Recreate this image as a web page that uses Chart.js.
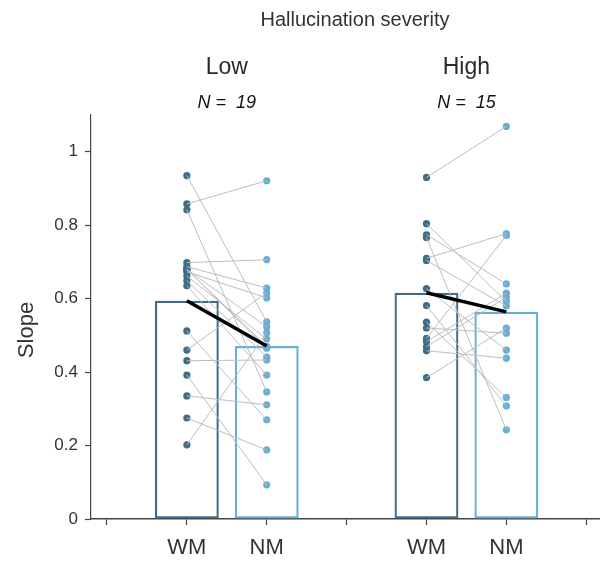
<!DOCTYPE html>
<html>
<head>
<meta charset="utf-8">
<script src="https://cdn.jsdelivr.net/npm/chart.js@4.4.1/dist/chart.umd.min.js"></script>
<style>
  html, body { margin: 0; padding: 0; background: #fff; overflow: hidden; }
</style>
</head>
<body>
<canvas id="myChart" width="603" height="561"></canvas>
<script>
const groups = ['Low', 'High'];
const groupN = [19, 15];
const conditions = ['WM', 'NM'];
const xWM = [1, 4];
const xNM = [2, 5];

// bar heights (group means)
const barWM = [0.594, 0.616];
const barNM = [0.471, 0.564];

// per-subject slopes, paired by index
const lowWM = [0.935, 0.858, 0.842, 0.698, 0.687, 0.680, 0.680, 0.680, 0.673, 0.662, 0.649, 0.635, 0.512, 0.460, 0.431, 0.392, 0.335, 0.275, 0.202];
const lowNM = [0.537, 0.921, 0.346, 0.706, 0.629, 0.523, 0.470, 0.465, 0.602, 0.490, 0.441, 0.392, 0.270, 0.616, 0.433, 0.093, 0.311, 0.188, 0.507];
const highWM = [0.930, 0.804, 0.774, 0.766, 0.710, 0.704, 0.627, 0.581, 0.536, 0.492, 0.483, 0.469, 0.458, 0.520, 0.385];
const highNM = [1.069, 0.592, 0.640, 0.243, 0.777, 0.580, 0.460, 0.308, 0.331, 0.772, 0.615, 0.604, 0.438, 0.506, 0.520];

const yTicks = [0, 0.2, 0.4, 0.6, 0.8, 1];
const xTicks = [0, 1, 2, 3, 4, 5, 6];

const darkBlue = '#3e6d8a';
const lightBlue = '#6aaed6';
const font = "'Liberation Sans', Arial, Helvetica, sans-serif";

const subjects = [[lowWM, lowNM], [highWM, highNM]];
const datasets = [];

// bars
datasets.push({
  type: 'bar',
  data: xWM.map((x, i) => ({ x: x, y: barWM[i] })),
  backgroundColor: 'rgba(255,255,255,0)',
  borderColor: darkBlue,
  borderWidth: 2.2,
  borderSkipped: false,
  grouped: false,
  barPercentage: 0.8,
  categoryPercentage: 1,
  order: 5
});
datasets.push({
  type: 'bar',
  data: xNM.map((x, i) => ({ x: x, y: barNM[i] })),
  backgroundColor: 'rgba(255,255,255,0)',
  borderColor: lightBlue,
  borderWidth: 2.2,
  borderSkipped: false,
  grouped: false,
  barPercentage: 0.8,
  categoryPercentage: 1,
  order: 5
});

// points
subjects.forEach((s, g) => {
  datasets.push({
    type: 'scatter',
    data: s[0].map(v => ({ x: xWM[g], y: v })),
    backgroundColor: darkBlue,
    borderWidth: 0,
    pointRadius: 3.6,
    order: 4
  });
  datasets.push({
    type: 'scatter',
    data: s[1].map(v => ({ x: xNM[g], y: v })),
    backgroundColor: lightBlue,
    borderWidth: 0,
    pointRadius: 3.6,
    order: 4
  });
  // subject lines
  s[0].forEach((v, i) => {
    datasets.push({
      type: 'line',
      data: [{ x: xWM[g], y: v }, { x: xNM[g], y: s[1][i] }],
      borderColor: '#bdbdbd',
      borderWidth: 1,
      pointRadius: 0,
      order: 3
    });
  });
  // mean line
  datasets.push({
    type: 'line',
    data: [{ x: xWM[g], y: barWM[g] }, { x: xNM[g], y: barNM[g] }],
    borderColor: '#000',
    borderWidth: 3.5,
    pointRadius: 0,
    order: 1
  });
});

const textPlugin = {
  id: 'texts',
  afterDraw(chart) {
    const ctx = chart.ctx;
    const xs = chart.scales.x;
    ctx.save();
    ctx.fillStyle = '#333';
    ctx.textAlign = 'center';
    ctx.textBaseline = 'middle';
    ctx.font = '20px ' + font;
    ctx.fillText('Hallucination severity', 355, 20);
    groups.forEach((gname, g) => {
      const cx = xs.getPixelForValue((xWM[g] + xNM[g]) / 2);
      ctx.fillStyle = '#2a2a2a';
      ctx.font = '23px ' + font;
      ctx.fillText(gname, cx, 68);
      ctx.fillStyle = '#111';
      ctx.font = 'italic 18px ' + font;
      ctx.fillText('N =  ' + groupN[g], cx, 103);
    });
    ctx.fillStyle = '#333';
    ctx.font = '22px ' + font;
    ctx.translate(27, 330);
    ctx.rotate(-Math.PI / 2);
    ctx.fillText('Slope', 0, 0);
    ctx.restore();
  }
};

const ctx = document.getElementById('myChart');
new Chart(ctx, {
  data: { datasets: datasets },
  options: {
    responsive: false,
    animation: false,
    layout: { padding: { top: 115, right: 0, left: 0, bottom: 0 } },
    plugins: {
      legend: { display: false },
      tooltip: { enabled: false }
    },
    scales: {
      x: {
        type: 'linear',
        min: -0.2,
        max: 6.16,
        offset: false,
        afterBuildTicks: axis => { axis.ticks = xTicks.map(v => ({ value: v })); },
        afterFit: axis => { axis.height = 42; },
        grid: { offset: false, drawOnChartArea: false, drawTicks: true, tickLength: 6, color: '#444', tickWidth: 1.2 },
        border: { display: true, color: '#444', width: 1.5 },
        ticks: {
          autoSkip: false,
          maxRotation: 0,
          padding: 10,
          color: '#333',
          font: { family: font, size: 22 },
          callback: v => {
            if (xWM.indexOf(v) >= 0) return conditions[0];
            if (xNM.indexOf(v) >= 0) return conditions[1];
            return '';
          }
        }
      },
      y: {
        min: 0,
        max: 1.1,
        afterBuildTicks: axis => { axis.ticks = yTicks.map(v => ({ value: v })); },
        afterFit: axis => { axis.width = 91; },
        grid: { drawOnChartArea: false, drawTicks: true, tickLength: 6, color: '#444', tickWidth: 1.2 },
        border: { display: true, color: '#444', width: 1.2 },
        ticks: {
          padding: 7,
          color: '#333',
          font: { family: font, size: 17 },
          callback: v => String(Math.round(v * 10) / 10)
        }
      }
    }
  },
  plugins: [textPlugin]
});
</script>
</body>
</html>
